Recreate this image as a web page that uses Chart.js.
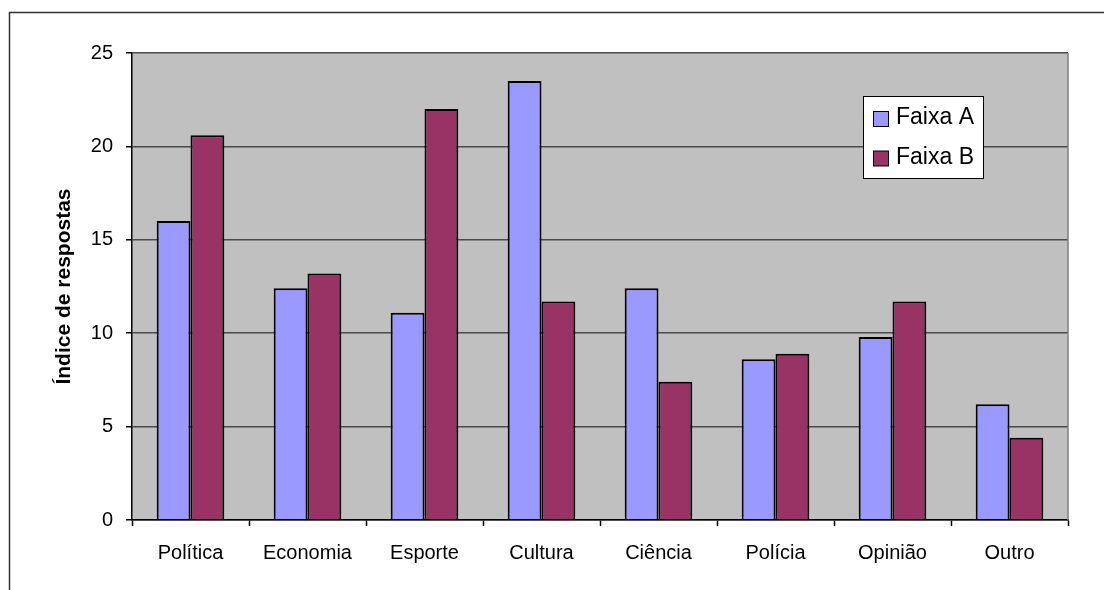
<!DOCTYPE html>
<html>
<head>
<meta charset="utf-8">
<script src="https://cdn.jsdelivr.net/npm/chart.js@4/dist/chart.umd.min.js"></script>
<style>
  body { margin: 0; background: #fff; }
  canvas { display: block; }
</style>
</head>
<body>
<canvas id="myChart" width="1104" height="590"></canvas>
<script>
// data
const categorias = ["Política", "Economia", "Esporte", "Cultura", "Ciência", "Polícia", "Opinião", "Outro"];
const faixaA = [16.0, 12.4, 11.1, 23.5, 12.4, 8.6, 9.8, 6.2];
const faixaB = [20.6, 13.2, 22.0, 11.7, 7.4, 8.9, 11.7, 4.4];
const nomesSeries = ["Faixa A", "Faixa B"];
const yTitulo = "Índice de respostas";

const FONT = "'Liberation Sans', Arial, sans-serif";

// gray plot area + outer frame, and excel-like legend box
const fundo = {
  id: 'fundo',
  beforeDraw(chart) {
    const {ctx, chartArea: a} = chart;
    ctx.save();
    ctx.fillStyle = '#C0C0C0';
    ctx.fillRect(a.left, a.top, a.right - a.left, a.bottom - a.top);
    ctx.strokeStyle = '#333';
    ctx.lineWidth = 1.5;
    ctx.strokeRect(9.5, 12.5, 1300, 800);
    ctx.restore();
  },
  afterDraw(chart) {
    const {ctx, chartArea: a} = chart;
    ctx.save();
    ctx.strokeStyle = '#808080';
    ctx.lineWidth = 1.5;
    ctx.beginPath();
    ctx.moveTo(a.right, a.top);
    ctx.lineTo(a.right, a.bottom);
    ctx.stroke();

    // legend
    const lx = 863.5, ly = 96.5, lw = 120, lh = 82;
    ctx.fillStyle = '#fff';
    ctx.fillRect(lx, ly, lw, lh);
    ctx.strokeStyle = '#000';
    ctx.lineWidth = 1;
    ctx.strokeRect(lx, ly, lw, lh);
    ctx.font = '23px ' + FONT;
    ctx.textBaseline = 'alphabetic';
    ctx.textAlign = 'left';
    chart.data.datasets.forEach((ds, i) => {
      const sy = 111 + i * 39.5;
      ctx.fillStyle = ds.backgroundColor;
      ctx.fillRect(873.5, sy + 0.5, 15, 15);
      ctx.strokeRect(873.5, sy + 0.5, 15, 15);
      ctx.fillStyle = '#000';
      ctx.fillText(ds.label, 896, sy + 13);
    });
    ctx.restore();
  }
};

new Chart(document.getElementById('myChart'), {
  type: 'bar',
  data: {
    labels: categorias,
    datasets: [{
      label: nomesSeries[0],
      data: faixaA,
      backgroundColor: '#9999FF',
      borderColor: '#000',
      borderWidth: 2
    }, {
      label: nomesSeries[1],
      data: faixaB,
      backgroundColor: '#993366',
      borderColor: '#000',
      borderWidth: 2
    }]
  },
  options: {
    responsive: false,
    animation: false,
    devicePixelRatio: 1,
    categoryPercentage: 0.578,
    barPercentage: 1,
    layout: { padding: { left: 0, right: 36, top: 53, bottom: 0 } },
    plugins: {
      legend: { display: false },
      tooltip: { enabled: false }
    },
    scales: {
      x: {
        grid: {
          drawOnChartArea: false,
          drawTicks: true,
          tickLength: 6,
          tickColor: '#000',
          tickWidth: 1.5,
          offset: true
        },
        border: { color: '#000', width: 1.5 },
        ticks: {
          color: '#000',
          font: { family: FONT, size: 20 },
          padding: 15,
          maxRotation: 0
        },
        afterFit(s) { s.height = 70; }
      },
      y: {
        min: 0,
        max: 25,
        ticks: {
          stepSize: 5,
          color: '#000',
          font: { family: FONT, size: 20 },
          padding: 13
        },
        grid: {
          color: '#4a4a4a',
          lineWidth: 1.5,
          tickLength: 6,
          tickColor: '#000',
          tickWidth: 1.5
        },
        border: { color: '#000', width: 1.5 },
        title: {
          display: true,
          text: yTitulo,
          color: '#000',
          font: { family: FONT, size: 21, weight: 'bold' },
          padding: { top: 52, bottom: 0 }
        },
        afterFit(s) { s.width = 132; }
      }
    }
  },
  plugins: [fundo]
});
</script>
</body>
</html>
